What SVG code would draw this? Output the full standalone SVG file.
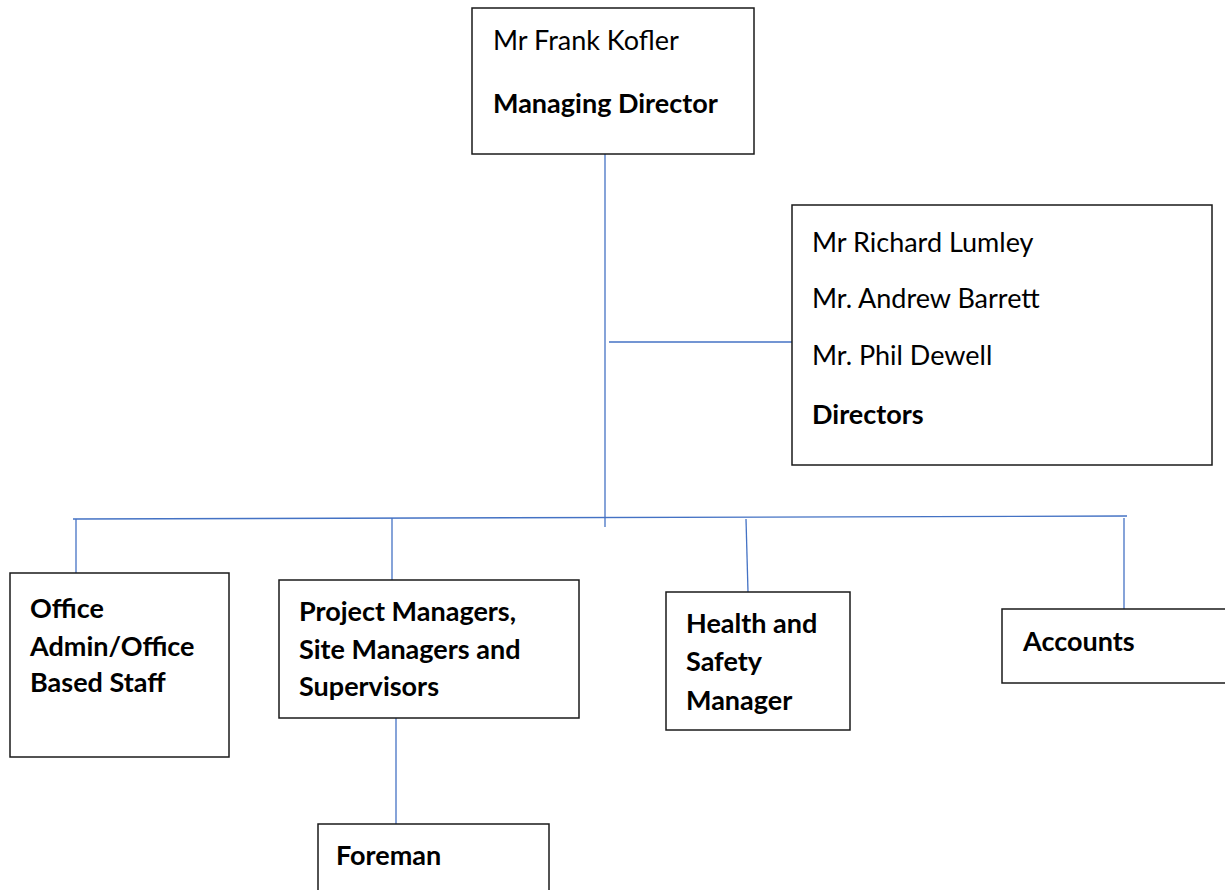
<svg xmlns="http://www.w3.org/2000/svg" width="1225" height="890" viewBox="0 0 1225 890">
<style>
.box{fill:#fff;stroke:#1a1a1a;stroke-width:1.5}
.t{font-family:Lato,"Open Sans","Liberation Sans",sans-serif;font-size:27px;fill:#000}
.b{font-weight:bold}
.c{stroke:#4472C4;stroke-width:1.3;fill:none}
</style>
<rect width="1225" height="890" fill="#fff"/>
<g id="connectors">
<line class="c" x1="605" y1="154" x2="605" y2="527"/>
<line class="c" x1="609" y1="342" x2="792" y2="342"/>
<line class="c" x1="73" y1="519" x2="1127" y2="516"/>
<line class="c" x1="76" y1="519" x2="76" y2="573"/>
<line class="c" x1="392" y1="518" x2="392" y2="580"/>
<line class="c" x1="746" y1="519" x2="748" y2="592"/>
<line class="c" x1="1124" y1="518" x2="1124" y2="609"/>
<line class="c" x1="396" y1="718" x2="396" y2="825"/>
</g>
<g id="managing-director">
<rect class="box" x="472" y="8" width="282" height="146"/>
<text class="t" x="493" y="50">Mr Frank Kofler</text>
<text class="t b" x="493" y="113">Managing Director</text>
</g>
<g id="directors">
<rect class="box" x="792" y="205" width="420" height="260"/>
<text class="t" x="812" y="252">Mr Richard Lumley</text>
<text class="t" x="812" y="308">Mr. Andrew Barrett</text>
<text class="t" x="812" y="365">Mr. Phil Dewell</text>
<text class="t b" x="812" y="424">Directors</text>
</g>
<g id="office">
<rect class="box" x="10" y="573" width="219" height="184"/>
<text class="t b" x="30" y="618">Office</text>
<text class="t b" x="30" y="656">Admin/Office</text>
<text class="t b" x="30" y="692">Based Staff</text>
</g>
<g id="project-managers">
<rect class="box" x="279" y="580" width="300" height="138"/>
<text class="t b" x="299" y="621">Project Managers,</text>
<text class="t b" x="299" y="659">Site Managers and</text>
<text class="t b" x="299" y="696">Supervisors</text>
</g>
<g id="health-safety">
<rect class="box" x="666" y="592" width="184" height="138"/>
<text class="t b" x="686" y="633">Health and</text>
<text class="t b" x="686" y="671">Safety</text>
<text class="t b" x="686" y="710">Manager</text>
</g>
<g id="accounts">
<rect class="box" x="1002" y="609" width="240" height="74"/>
<text class="t b" x="1023" y="651">Accounts</text>
</g>
<g id="foreman">
<rect class="box" x="318" y="824" width="231" height="80"/>
<text class="t b" x="336" y="865">Foreman</text>
</g>
</svg>
